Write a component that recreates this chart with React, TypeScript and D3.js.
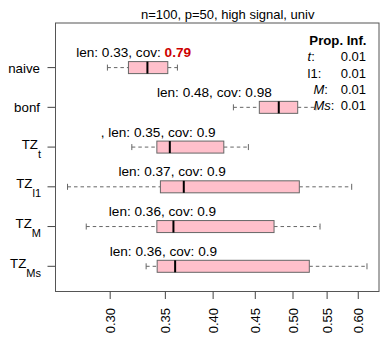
import React from "react";
import * as d3 from "d3";

const methods = ["naive", "bonf", "TZ_t", "TZ_l1", "TZ_M", "TZ_Ms"];
const subs = ["", "", "t", "l1", "M", "Ms"];
const bases = ["naive", "bonf", "TZ", "TZ", "TZ", "TZ"];
const whiskLo = [0.2977, 0.4233, 0.3187, 0.2663, 0.2806, 0.3317];
const q1 = [0.3157, 0.4551, 0.3418, 0.3452, 0.3418, 0.3421];
const med = [0.3329, 0.4805, 0.3544, 0.3685, 0.358, 0.3597];
const q3 = [0.3524, 0.5066, 0.4121, 0.5089, 0.4742, 0.5233];
const whiskHi = [0.362, 0.533, 0.4414, 0.5891, 0.5392, 0.6148];
const labelPrefix = ["", "", ", ", "", "", ""];
const lens = ["0.33", "0.48", "0.35", "0.37", "0.36", "0.36"];
const covs = ["0.79", "0.98", "0.9", "0.9", "0.9", "0.9"];
const labelCenter = [0.3203, 0.4014, 0.343, 0.3567, 0.3472, 0.3481];
const xTicks = [0.3, 0.35, 0.4, 0.45, 0.5, 0.55, 0.6];
const legendKeys = ["t", "l1", "M", "Ms"];
const legendItalic = [true, false, true, true];
const legendVals = ["0.01", "0.01", "0.01", "0.01"];

const FONT = "'Liberation Sans', Arial, Helvetica, sans-serif";

export default function App() {
  const W = 388, H = 347;
  const left = 55.5, right = 379, top = 23, bottom = 291.5;
  const x = d3.scaleLog().domain([0.2575, 0.6358]).range([left, right]);
  const y = d3.scaleLinear().domain([1, 6]).range([67.6, 266.3]);
  const bh = 12;
  const st = 6;
  return (
    <svg width={W} height={H} style={{ position: "absolute", left: 0, top: 0, background: "#fff" }} fontFamily={FONT}>
      <rect x={0} y={0} width={W} height={H} fill="#fff" />
      <text x={227.7} y={18.5} fontSize={13} textAnchor="middle" fill="#000">
        n=100, p=50, high signal, univ
      </text>
      {methods.map((m, i) => {
        const cy = y(i + 1);
        return (
          <g key={m}>
            <line x1={x(whiskLo[i])} x2={x(q1[i])} y1={cy} y2={cy} stroke="#666" strokeDasharray="3.5,3" />
            <line x1={x(q3[i])} x2={x(whiskHi[i])} y1={cy} y2={cy} stroke="#666" strokeDasharray="3.5,3" />
            <line x1={x(whiskLo[i])} x2={x(whiskLo[i])} y1={cy - st / 2} y2={cy + st / 2} stroke="#666" />
            <line x1={x(whiskHi[i])} x2={x(whiskHi[i])} y1={cy - st / 2} y2={cy + st / 2} stroke="#666" />
            <rect x={x(q1[i])} y={cy - bh / 2} width={x(q3[i]) - x(q1[i])} height={bh} fill="#ffc0cb" stroke="#666" />
            <line x1={x(med[i])} x2={x(med[i])} y1={cy - bh / 2} y2={cy + bh / 2} stroke="#000" strokeWidth={2} />
            <text x={x(labelCenter[i])} y={cy - 10.5} fontSize={13.6} textAnchor="middle" fill="#000">
              {labelPrefix[i]}len: {lens[i]}, cov:{" "}
              <tspan fill={parseFloat(covs[i]) < 0.85 ? "#cd0000" : "#000"} fontWeight={parseFloat(covs[i]) < 0.85 ? "bold" : "normal"}>
                {covs[i]}
              </tspan>
            </text>
            <line x1={left - 8} x2={left} y1={cy} y2={cy} stroke="#444" />
            {subs[i] === "" ? (
              <text x={40} y={cy + 5} fontSize={13.3} textAnchor="end">{bases[i]}</text>
            ) : (
              <text x={41} y={cy + 1.5} fontSize={13.3} textAnchor="end">
                {bases[i]}
                <tspan fontSize={11} dy={9}>{subs[i]}</tspan>
              </text>
            )}
          </g>
        );
      })}
      <rect x={left} y={top} width={right - left} height={bottom - top} fill="none" stroke="#555" />
      {xTicks.map((t) => (
        <g key={t}>
          <line x1={x(t)} x2={x(t)} y1={bottom} y2={bottom + 7.5} stroke="#444" />
          <text transform={`translate(${x(t) + 4.7},${308})rotate(-90)`} fontSize={13} textAnchor="end">
            {d3.format(".2f")(t)}
          </text>
        </g>
      ))}
      <text x={366.5} y={45} fontSize={13.2} fontWeight="bold" textAnchor="end">Prop. Inf.</text>
      {legendKeys.map((k, i) => (
        <g key={k}>
          <text x={legendItalic[i] && k.startsWith("M") ? 313.5 : 307.5} y={61.3 + 16.3 * i} fontSize={13}>
            <tspan fontStyle={legendItalic[i] ? "italic" : "normal"}>{k}</tspan>:
          </text>
          <text x={366} y={61.3 + 16.3 * i} fontSize={13} textAnchor="end">{legendVals[i]}</text>
        </g>
      ))}
    </svg>
  );
}
